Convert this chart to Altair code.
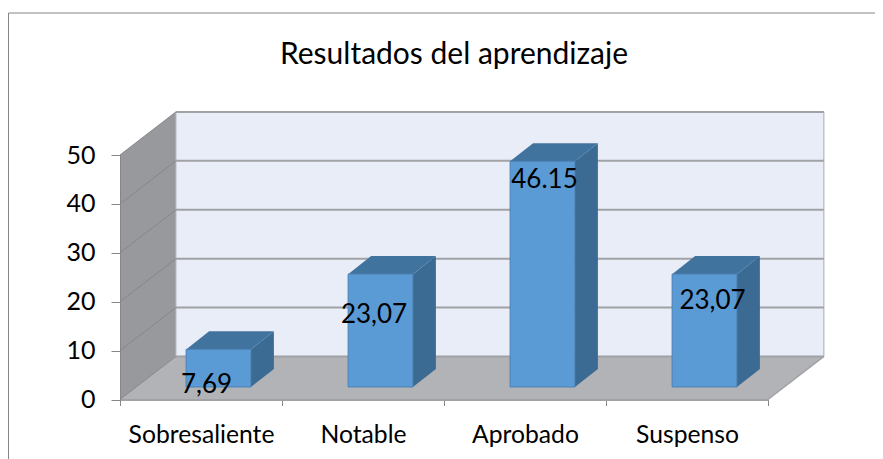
import altair as alt
import pandas as pd

categories = ["Sobresaliente", "Notable", "Aprobado", "Suspenso"]
values = [7.69, 23.07, 46.15, 23.07]
value_labels = ["7,69", "23,07", "46.15", "23,07"]
y_ticks = [0, 10, 20, 30, 40, 50]
title_text = "Resultados del aprendizaje"

FONT = "Lato"
N = len(categories)
YMAX = 50
# oblique projection of the depth axis, in axis units
WALL_DX, WALL_DZ = 0.345, 8.8
BAR_SHIFT_X, BAR_SHIFT_Z = 0.108, 2.56
BAR_W, BAR_DX, BAR_DZ = 0.40, 0.142, 3.7
# hand placement of the data labels in the original (pixels from the bar's top centre)
NUDGE = [(-12, 36), (-6.5, 41), (2, 19), (8, 27)]

xs = alt.Scale(domain=[0, N], nice=False, zero=False)
ys = alt.Scale(domain=[0, YMAX], nice=False, zero=False)

x_axis = alt.Axis(
    values=[i / 2 for i in range(2 * N + 1)],
    title=None, grid=False, tickSize=6, tickColor="#868686", tickWidth=1,
    tickOpacity=alt.expr("datum.value % 1 == 0 ? 1 : 0"),
    domainColor="#a0a2a6", domainWidth=2, zindex=1,
    labelExpr="datum.value % 1 == 0.5 ? " + str(categories) + "[floor(datum.value)] : ''",
    labelFont=FONT, labelFontSize=24.7, labelColor="#000000", labelPadding=17,
    labelBaseline="top", labelFlush=False, labelOverlap=False, labelBound=False,
)
y_axis = alt.Axis(
    values=y_ticks, title=None, grid=False, tickSize=9, tickColor="#868686", tickWidth=1,
    domainColor="#868686", domainWidth=1, zindex=1,
    labelFont=FONT, labelFontSize=25, labelColor="#000000", labelPadding=16,
)


def X(f="x", **k):
    return alt.X(f, type="quantitative", scale=xs, axis=x_axis, **k)


def Y(f="y", **k):
    return alt.Y(f, type="quantitative", scale=ys, axis=y_axis, **k)


# walls and floor
floor = alt.Chart(pd.DataFrame({"y": [0, WALL_DZ], "x": [0, WALL_DX], "x2": [N, N + WALL_DX]})).mark_area(
    orient="horizontal", color="#b1b3b6"
).encode(x=X(), x2="x2", y=Y())
left_wall = alt.Chart(pd.DataFrame({"x": [0, WALL_DX], "y": [0, WALL_DZ], "y2": [YMAX, YMAX + WALL_DZ]})).mark_area(
    orient="vertical", color="#97999c"
).encode(x=X(), y=Y(), y2="y2")
back_wall = alt.Chart(pd.DataFrame({"x": [WALL_DX], "x2": [N + WALL_DX], "y": [WALL_DZ], "y2": [YMAX + WALL_DZ]})).mark_rect(
    color="#e9edf7", stroke="#a9abae", strokeWidth=1
).encode(x=X(), x2="x2", y=Y(), y2="y2")

# gridlines: back wall + slanted on the side wall
back_grid = alt.Chart(pd.DataFrame({
    "y": [t + WALL_DZ for t in y_ticks], "x": [WALL_DX] * len(y_ticks), "x2": [N + WALL_DX] * len(y_ticks)
})).mark_rule(color="#a0a2a6", strokeWidth=2).encode(x=X(), x2="x2", y=Y())
slant_rows = []
for t in y_ticks:
    slant_rows += [{"t": t, "x": 0, "y": t}, {"t": t, "x": WALL_DX, "y": t + WALL_DZ}]
side_grid = alt.Chart(pd.DataFrame(slant_rows)).mark_line(color="#85878a", strokeWidth=1).encode(
    x=X(), y=Y(), detail="t:N"
)
right_edge = alt.Chart(pd.DataFrame({"x": [N, N + WALL_DX], "y": [0, WALL_DZ]})).mark_line(
    color="#a0a2a6", strokeWidth=1.5
).encode(x=X(), y=Y())

# bars
front_rows, top_rows, side_rows, label_layers = [], [], [], []
for i, (c, v) in enumerate(zip(categories, values)):
    x0 = i + 0.5 - BAR_W / 2 + BAR_SHIFT_X
    x1 = x0 + BAR_W
    z0, z1 = BAR_SHIFT_Z, BAR_SHIFT_Z + v
    front_rows.append({"c": c, "x": x0, "x2": x1, "y": z0, "y2": z1})
    top_rows += [{"c": c, "y": z1, "x": x0, "x2": x1},
                 {"c": c, "y": z1 + BAR_DZ, "x": x0 + BAR_DX, "x2": x1 + BAR_DX}]
    side_rows += [{"c": c, "x": x1, "y": z0, "y2": z1},
                  {"c": c, "x": x1 + BAR_DX, "y": z0 + BAR_DZ, "y2": z1 + BAR_DZ}]
    label_layers.append(
        alt.Chart(pd.DataFrame({"x": [(x0 + x1) / 2], "y": [z1], "t": [value_labels[i]]})).mark_text(
            font=FONT, fontSize=26, color="#000000", dx=NUDGE[i][0], dy=NUDGE[i][1], baseline="middle"
        ).encode(x=X(), y=Y(), text="t:N")
    )

bar_side = alt.Chart(pd.DataFrame(side_rows)).mark_area(orient="vertical", color="#3b6a93").encode(
    x=X(), y=Y(), y2="y2", detail="c:N"
)
bar_top = alt.Chart(pd.DataFrame(top_rows)).mark_area(orient="horizontal", color="#41739f").encode(
    x=X(), x2="x2", y=Y(), detail="c:N"
)
bar_front = alt.Chart(pd.DataFrame(front_rows)).mark_rect(color="#5b9bd5", stroke="#4a80b4", strokeWidth=1).encode(
    x=X(), x2="x2", y=Y(), y2="y2"
)

# outer frame of the chart
anchor = alt.Chart(pd.DataFrame({"a": [0]}))
frame_left = anchor.mark_rule(color="#868686", strokeWidth=1).encode(
    x=alt.value(-111.5), y=alt.value(-142), y2=alt.value(320)
)
frame_top = anchor.mark_rule(color="#868686", strokeWidth=1).encode(
    x=alt.value(-111.5), x2=alt.value(780), y=alt.value(-142)
)

chart = alt.layer(
    floor, left_wall, back_wall, back_grid, side_grid, right_edge,
    bar_side, bar_top, bar_front, *label_layers, frame_left, frame_top,
).properties(
    width=648, height=244.5,
    padding={"left": 112, "top": 147, "right": 107, "bottom": 59.5},
    autosize="none", background="#ffffff",
    title=alt.TitleParams(title_text, font=FONT, fontSize=30, fontWeight="normal", color="#000000",
                          anchor="middle", dx=10, offset=-57),
).configure_view(stroke=None)

chart.save("out.html", embed_options={"renderer": "svg", "actions": False})
